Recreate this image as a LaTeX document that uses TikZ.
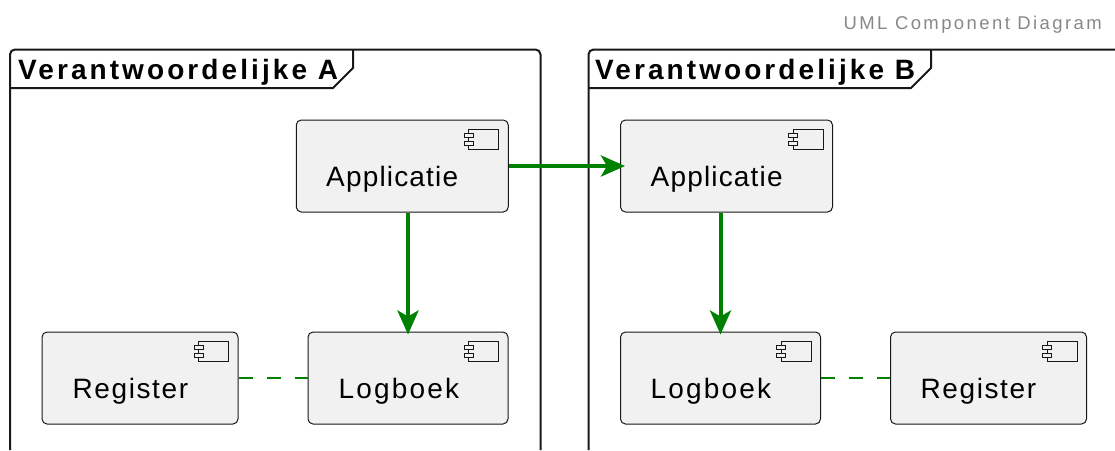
\documentclass[tikz,border=0pt]{standalone}
\usepackage{fontspec}
\setmainfont{Liberation Sans}
\usetikzlibrary{arrows.meta,calc,positioning}
\definecolor{boxfill}{HTML}{F1F1F1}
\definecolor{boxline}{HTML}{181818}
\definecolor{linkgreen}{HTML}{008000}
\definecolor{headgray}{HTML}{888888}
\tikzset{
	compbox/.style={draw=boxline, fill=boxfill, line width=1pt, rounded corners=5pt, minimum height=92pt, inner sep=0pt},
	comptext/.style={anchor=base west, inner sep=0pt, font=\fontsize{28}{28}\selectfont\addfontfeature{LetterSpace=#1}, text=black},
	frameline/.style={draw=boxline, line width=2pt},
	frametitle/.style={anchor=base west, inner sep=0pt, font=\fontsize{28}{28}\selectfont\bfseries\addfontfeature{LetterSpace=11}, text=black},
	strong/.style={draw=linkgreen, line width=4pt, -{Stealth[length=24pt,width=21pt,inset=6pt]}},
	weak/.style={draw=linkgreen, line width=2pt, dash pattern=on 14pt off 14pt},
	compicon/.pic={
		\draw [draw=boxline, fill=boxfill, line width=1pt] (-40,9.5) rectangle (-10,30);
		\draw [draw=boxline, fill=boxfill, line width=1pt] (-44.5,13.5) rectangle (-35.5,18);
		\draw [draw=boxline, fill=boxfill, line width=1pt] (-44.5,21.5) rectangle (-35.5,26);
	}
}
\begin{document}
\begin{tikzpicture}[x=1pt,y=-1pt]
	\useasboundingbox (0,0) rectangle (1115,450);
	\node [anchor=base east, inner sep=0pt, text=headgray, font=\fontsize{18.5}{18.5}\selectfont\addfontfeature{LetterSpace=13}] (header) at (1102,29) {UML Component Diagram};
	% left package
	\draw [frameline, rounded corners=5pt] (10,450) -- (10,49.5) -- (540.5,49.5) -- (540.5,450);
	\draw [frameline] (10,88) -- (333,88) -- (353,68) -- (353,49.5);
	\node [frametitle] (titleA) at (18,79) {Verantwoordelijke A};
	% right package
	\draw [frameline, rounded corners=5pt] (588.5,450) -- (588.5,49.5) -- (1125,49.5);
	\draw [frameline] (588.5,88) -- (911,88) -- (931,68) -- (931,49.5);
	\node [frametitle] (titleB) at (595,79) {Verantwoordelijke B};
	% components
	\node [compbox, minimum width=212pt] (appA) at (402.25,166) {};
	\node [compbox, minimum width=212pt] (appB) at (726.5,166) {};
	\node [compbox, minimum width=196pt] (regA) at (140,378) {};
	\node [compbox, minimum width=200pt] (logA) at (408,378) {};
	\node [compbox, minimum width=200pt] (logB) at (720.5,378) {};
	\node [compbox, minimum width=196pt] (regB) at (988.5,378) {};
	\pic at (appA.north east) {compicon};
	\pic at (appB.north east) {compicon};
	\pic at (regA.north east) {compicon};
	\pic at (logA.north east) {compicon};
	\pic at (logB.north east) {compicon};
	\pic at (regB.north east) {compicon};
	\node [comptext=4.2] (appAtext) at (326,186.5) {Applicatie};
	\node [comptext=4.2] (appBtext) at (650.5,186.5) {Applicatie};
	\node [comptext=5.7] (regAtext) at (72.5,398.5) {Register};
	\node [comptext=7.7] (logAtext) at (338.5,398.5) {Logboek};
	\node [comptext=7.7] (logBtext) at (650.5,398.5) {Logboek};
	\node [comptext=5.7] (regBtext) at (920.5,398.5) {Register};
	% links
	\draw [strong, shorten >=-5pt] (appA.east) -- (appB.west);
	\draw [strong, shorten >=-3pt] (logA.north |- appA.south) -- (logA.north);
	\draw [strong, shorten >=-3pt] (logB.north |- appB.south) -- (logB.north);
	\draw [weak] (regA.east) -- (logA.west);
	\draw [weak] (logB.east) -- (regB.west);
\end{tikzpicture}
\end{document}
